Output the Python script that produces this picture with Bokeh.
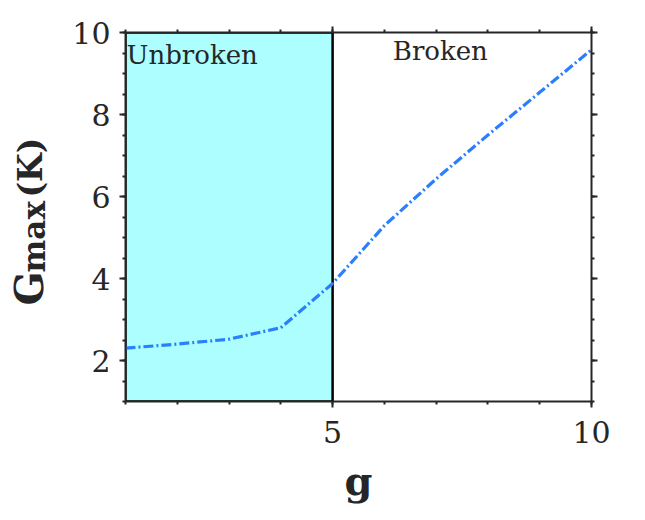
from math import pi
from bokeh.plotting import figure
from bokeh.layouts import row, column
from bokeh.models import Range1d, LinearAxis, SingleIntervalTicker, Label, CustomJSTickFormatter
from bokeh.embed import file_html
from bokeh.resources import INLINE

# data
g_vals = [1, 2, 3, 4, 5, 6, 7, 8, 9, 10]
gmax_vals = [2.30, 2.40, 2.52, 2.80, 3.88, 5.29, 6.43, 7.50, 8.54, 9.58]
region_left = [1]
region_right = [5]
region_bottom = [1]
region_top = [10]
x_ticks_major = 5
y_ticks_major = 2

FONT = "DejaVu Serif"
DARK = "#262626"

YLAB_W = 62
MAIN_W = 629 - YLAB_W
MAIN_H = 455
XLAB_H = 49
TOTAL_H = MAIN_H + XLAB_H
FRAME_W = 466

p = figure(width=MAIN_W, height=MAIN_H, output_backend="svg", toolbar_location=None, title=None,
           x_range=Range1d(1, 10), y_range=Range1d(1, 10),
           x_axis_location=None, y_axis_location=None,
           min_border_left=125 - YLAB_W, min_border_right=38, min_border_top=32,
           min_border_bottom=MAIN_H - 401)
p.outline_line_color = None
p.xgrid.visible = False
p.ygrid.visible = False
p.background_fill_color = "white"
p.border_fill_color = "white"

def style(ax, labels=True):
    ax.axis_line_color = DARK
    ax.axis_line_width = 2
    ax.major_tick_line_color = DARK
    ax.minor_tick_line_color = DARK
    ax.major_tick_line_width = 2
    ax.minor_tick_line_width = 2
    ax.major_tick_out = 6
    ax.major_tick_in = 0
    ax.minor_tick_out = 3
    ax.minor_tick_in = 0
    ax.major_label_text_font = FONT
    ax.major_label_text_color = DARK
    ax.major_label_text_font_size = "30px"
    if not labels:
        ax.formatter = CustomJSTickFormatter(code="return ''")
        ax.major_label_text_font_size = "1px"
        ax.major_label_standoff = 0

bottom = LinearAxis(ticker=SingleIntervalTicker(interval=x_ticks_major, num_minor_ticks=5))
style(bottom)
bottom.major_label_standoff = 13
top = LinearAxis(ticker=SingleIntervalTicker(interval=x_ticks_major, num_minor_ticks=5))
style(top, labels=False)
left = LinearAxis(ticker=SingleIntervalTicker(interval=y_ticks_major, num_minor_ticks=4))
style(left)
left.major_label_standoff = 9
right = LinearAxis(ticker=SingleIntervalTicker(interval=y_ticks_major, num_minor_ticks=4))
style(right, labels=False)

p.add_layout(bottom, "below")
p.add_layout(top, "above")
p.add_layout(left, "left")
p.add_layout(right, "right")

# shaded unbroken region
p.quad(left=region_left, right=region_right, bottom=region_bottom, top=region_top,
       fill_color="#adffff", line_color="black", line_width=2.5)

# curve
p.line(g_vals, gmax_vals, line_color="#2a7fff", line_width=3.2, line_dash="10 3 2 3")

# region labels
p.add_layout(Label(x=1, y=10, x_offset=1, y_offset=-22, text="Unbroken", text_font=FONT,
                   text_font_size="26px", text_color=DARK, text_align="left",
                   text_baseline="alphabetic"))
p.add_layout(Label(x=7.08, y=10, y_offset=-18, text="Broken", text_font=FONT,
                   text_font_size="26px", text_color=DARK, text_align="center",
                   text_baseline="alphabetic"))

def blank(w, h):
    f = figure(frame_width=w, frame_height=h, output_backend="svg", toolbar_location=None,
               title=None, x_range=Range1d(0, w), y_range=Range1d(0, h),
               x_axis_location=None, y_axis_location=None, min_border=0)
    f.outline_line_color = None
    f.xgrid.visible = False
    f.ygrid.visible = False
    f.background_fill_color = "white"
    f.border_fill_color = "white"
    return f

# y-axis label: G_max(K)
ylab = blank(YLAB_W, TOTAL_H)
for txt, sx, sy, size in [("G", 28, 305, "40px"), ("max", 33, 272, "31px"), ("(K)", 30, 197, "33px")]:
    ylab.add_layout(Label(x=sx, y=TOTAL_H - sy, text=txt, text_font=FONT, text_font_size=size,
                          text_font_style="bold", text_color=DARK, text_align="left",
                          text_baseline="alphabetic", angle=pi / 2))

# x-axis label: g (frame aligned with the main plot frame)
xlab = blank(FRAME_W, XLAB_H)
xlab.add_layout(Label(x=FRAME_W / 2, y=TOTAL_H - 480, text="g", text_font=FONT, text_font_size="40px",
                      text_font_style="bold", text_color=DARK, text_align="center",
                      text_baseline="alphabetic"))

layout = row(ylab, column(p, xlab, spacing=0), spacing=0)

open("out.html", "w").write(file_html(layout, INLINE))
